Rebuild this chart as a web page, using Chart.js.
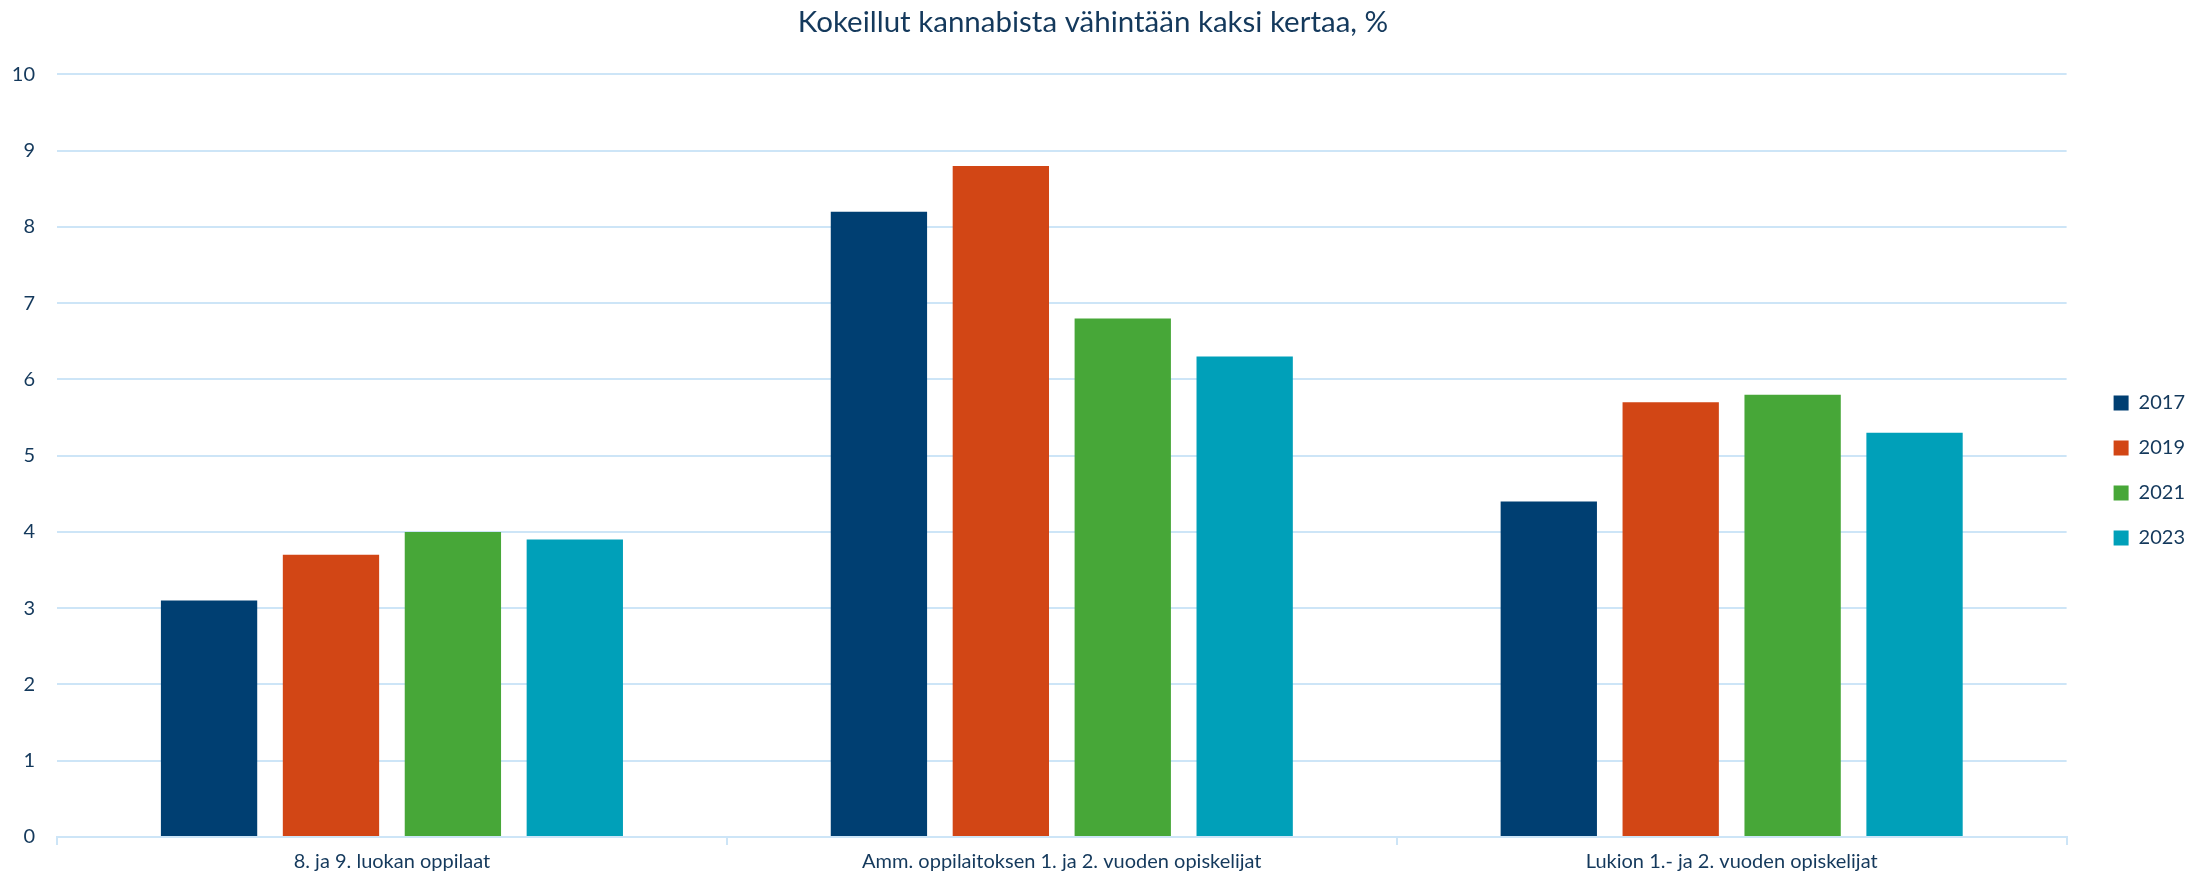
<!DOCTYPE html>
<html>
<head>
<meta charset="utf-8">
<script src="https://cdn.jsdelivr.net/npm/chart.js@4/dist/chart.umd.min.js"></script>
<style>
  html, body { margin: 0; padding: 0; background: #fff; }
  #wrap { width: 2206px; height: 879px; }
</style>
</head>
<body>
<div id="wrap"><canvas id="chart"></canvas></div>
<script>
  'use strict';

  const categories = [
    '8. ja 9. luokan oppilaat',
    'Amm. oppilaitoksen 1. ja 2. vuoden opiskelijat',
    'Lukion 1.- ja 2. vuoden opiskelijat'
  ];
  const years = ['2017', '2019', '2021', '2023'];
  const values2017 = [3.1, 8.2, 4.4];
  const values2019 = [3.7, 8.8, 5.7];
  const values2021 = [4.0, 6.8, 5.8];
  const values2023 = [3.9, 6.3, 5.3];
  const colors = ['#003f72', '#d24615', '#47a738', '#00a0b9'];

  const textColor = '#14395c';
  const gridColor = '#cde5f7';
  const fontFamily = 'Lato, "Open Sans", sans-serif';

  // keep a gap between plot area and the legend, and sit it a bit lower
  const legendShift = {
    id: 'legendShift',
    afterLayout(chart) {
      const lg = chart.legend;
      if (lg) {
        const w = lg.width;
        lg.left = chart.chartArea.right + 22;
        lg.right = lg.left + w;
        lg.top += 31;
        lg.bottom += 31;
      }
    }
  };

  const series = [values2017, values2019, values2021, values2023];

  new Chart(document.getElementById('chart'), {
    type: 'bar',
    data: {
      labels: categories,
      datasets: series.map((vals, i) => ({
        label: years[i],
        data: vals,
        backgroundColor: colors[i],
        borderWidth: 0,
        categoryPercentage: 0.728,
        barPercentage: 0.79
      }))
    },
    options: {
      responsive: true,
      maintainAspectRatio: false,
      animation: false,
      layout: { padding: { left: 13, right: 33, top: 0, bottom: 0 } },
      plugins: {
        title: {
          display: true,
          text: 'Kokeillut kannabista vähintään kaksi kertaa, %',
          color: textColor,
          font: { family: fontFamily, size: 29.5, weight: 'normal' },
          padding: { top: 5, bottom: 34 }
        },
        legend: {
          position: 'right',
          labels: {
            color: textColor,
            font: { family: fontFamily, size: 20 },
            boxWidth: 15,
            boxHeight: 15,
            padding: 25
          }
        },
        tooltip: { enabled: false }
      },
      scales: {
        x: {
          grid: {
            display: true,
            drawOnChartArea: false,
            drawTicks: true,
            tickLength: 8,
            color: gridColor,
            lineWidth: 2
          },
          border: { display: true, color: gridColor, width: 2 },
          ticks: {
            color: textColor,
            font: { family: fontFamily, size: 20 },
            padding: 5,
            maxRotation: 0
          }
        },
        y: {
          min: 0,
          max: 10,
          afterFit(scale) { scale.width = 44; },
          ticks: {
            stepSize: 1,
            color: textColor,
            font: { family: fontFamily, size: 20 },
            padding: 22
          },
          grid: {
            color: gridColor,
            lineWidth: 2,
            drawTicks: false
          },
          border: { display: false }
        }
      }
    },
    plugins: [legendShift]
  });
</script>
</body>
</html>
